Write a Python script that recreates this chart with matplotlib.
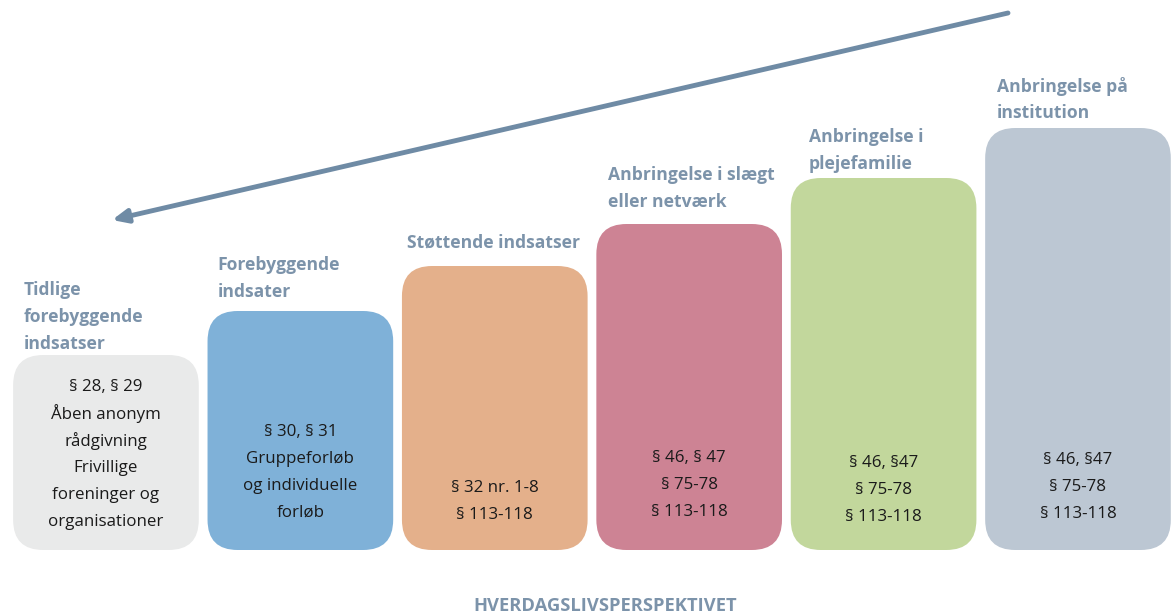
import matplotlib
matplotlib.use("Agg")
import matplotlib.pyplot as plt
from matplotlib.patches import FancyBboxPatch

plt.rcParams['font.family'] = ['Open Sans', 'DejaVu Sans']

# Data
titles = [
    ["Tidlige", "forebyggende", "indsatser"],
    ["Forebyggende", "indsater"],
    ["Støttende indsatser"],
    ["Anbringelse i slægt", "eller netværk"],
    ["Anbringelse i", "plejefamilie"],
    ["Anbringelse på", "institution"],
]
bodies = [
    ["§ 28, § 29", "Åben anonym", "rådgivning", "Frivillige", "foreninger og", "organisationer"],
    ["§ 30, § 31", "Gruppeforløb", "og individuelle", "forløb"],
    ["§ 32 nr. 1-8", "§ 113-118"],
    ["§ 46, § 47", "§ 75-78", "§ 113-118"],
    ["§ 46, §47", "§ 75-78", "§ 113-118"],
    ["§ 46, §47", "§ 75-78", "§ 113-118"],
]
heights = [195, 239, 284, 326, 372, 422]
bottom_label = "HVERDAGSLIVSPERSPEKTIVET"

# Styles / layout
colors = ["#e9eaea", "#7fb1d8", "#e4b08b", "#cd8394", "#c2d79c", "#bcc7d3"]
title_color = "#7c93aa"
arrow_color = "#6f8ba5"
text_color = "#1a1a1a"
title_gap = [11, 19, 23, 22, 14, 15]
title_dx = [-0.422, -0.427, -0.453, -0.417, -0.383, -0.417]
body_gap = [28, 37, 35, 38, 33, 36]
line_step = 27
box_w = 0.955
px_per_unit = 194.4

fig = plt.figure(figsize=(11.75, 6.15), dpi=100)
ax = fig.add_axes([0, 0, 1, 1])
ax.set_xlim(-0.545, 5.499)
ax.set_ylim(-65, 550)
ax.axis('off')

for i, h in enumerate(heights):
    r = 0.155
    box = FancyBboxPatch((i - box_w / 2, 0), box_w, h,
                         boxstyle=f"round,pad=0,rounding_size={r}",
                         mutation_aspect=px_per_unit,
                         facecolor=colors[i], edgecolor='none')
    ax.add_patch(box)

    lines = titles[i]
    n = len(lines)
    for k, line in enumerate(lines):
        y = h + title_gap[i] + (n - 1 - k) * line_step
        ax.text(i + title_dx[i], y, line, ha='left', va='center',
                fontsize=12.6, fontweight='bold', color=title_color)

    lines = bodies[i]
    n = len(lines)
    for k, line in enumerate(lines):
        y = body_gap[i] + (n - 1 - k) * line_step
        ax.text(i, y, line, ha='center', va='center',
                fontsize=12.2, color=text_color)

# Arrow pointing from the right top to the left
ax.annotate("", xy=(112, 395), xycoords='figure pixels',
            xytext=(1008, 602), textcoords='figure pixels',
            arrowprops=dict(arrowstyle="-|>,head_length=0.9,head_width=0.4",
                            color=arrow_color, lw=3.5, shrinkA=0, shrinkB=0))

fig.text(605 / 1175, 9 / 615, bottom_label, ha='center', va='center',
         fontsize=13.2, fontweight='bold', color=title_color)

fig.savefig("out.png", dpi=100)
